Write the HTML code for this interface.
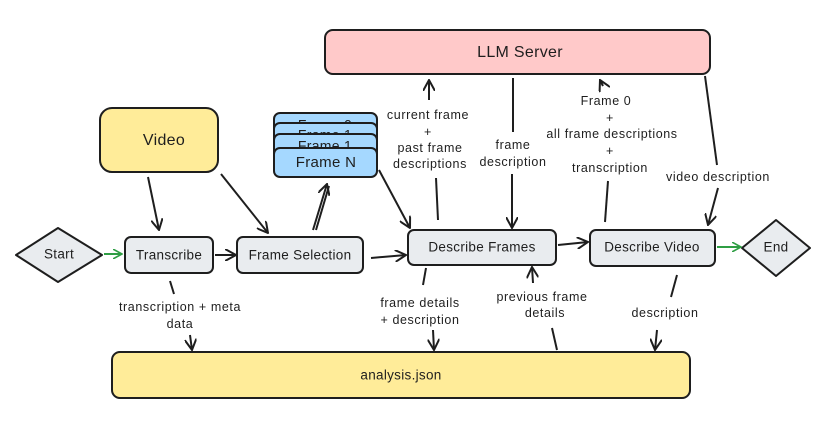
<!DOCTYPE html>
<html><head><meta charset="utf-8"><style>
html,body{margin:0;padding:0;background:#fff;}
svg{display:block;}
text{font-family:"Liberation Sans",sans-serif;fill:#1e1e1e;}
.n{font-size:13.5px;text-anchor:middle;dominant-baseline:middle;letter-spacing:0.3px;}
.l{font-size:12.5px;text-anchor:middle;letter-spacing:0.6px;}
</style></head><body>
<svg width="828" height="424" viewBox="0 0 828 424" xmlns="http://www.w3.org/2000/svg">
<defs>
<marker id="a" viewBox="0 0 12 12" refX="11" refY="6" markerWidth="12" markerHeight="12" markerUnits="userSpaceOnUse" orient="auto"><path d="M0,0 L11,6 L0,12" fill="none" stroke="#1e1e1e" stroke-width="2"/></marker>
<marker id="g" viewBox="0 0 12 12" refX="11" refY="6" markerWidth="10" markerHeight="10" markerUnits="userSpaceOnUse" orient="auto"><path d="M0,0 L11,6 L0,12" fill="none" stroke="#2f9e44" stroke-width="2"/></marker>
</defs>
<g stroke="#1e1e1e" stroke-width="2">
<rect x="325" y="30" width="385" height="44" rx="8" fill="#ffc9c9"/>
<rect x="100" y="108" width="118" height="64" rx="12" fill="#ffec99"/>
<rect x="274" y="113" width="103" height="29" rx="6" fill="#a5d8ff"/>
</g>
<text class="n" x="325" y="126" style="font-size:14px">Frame 0</text>
<g stroke="#1e1e1e" stroke-width="2">
<rect x="274" y="123" width="103" height="29" rx="6" fill="#a5d8ff"/>
</g>
<text class="n" x="325" y="136" style="font-size:14px">Frame 1</text>
<g stroke="#1e1e1e" stroke-width="2">
<rect x="274" y="134" width="103" height="29" rx="6" fill="#a5d8ff"/>
</g>
<text class="n" x="325" y="147" style="font-size:14px">Frame 1</text>
<g stroke="#1e1e1e" stroke-width="2">
<rect x="274" y="148" width="103" height="29" rx="6" fill="#a5d8ff"/>
<polygon points="16,255 58,228 102,255 58,282" fill="#e9ecef" stroke-linejoin="round"/>
<rect x="125" y="237" width="88" height="36" rx="6" fill="#e9ecef"/>
<rect x="237" y="237" width="126" height="36" rx="6" fill="#e9ecef"/>
<rect x="408" y="230" width="148" height="35" rx="6" fill="#e9ecef"/>
<rect x="590" y="230" width="125" height="36" rx="6" fill="#e9ecef"/>
<polygon points="742,248 776,220 810,248 776,276" fill="#e9ecef" stroke-linejoin="round"/>
<rect x="112" y="352" width="578" height="46" rx="8" fill="#ffec99"/>
</g>
<text class="n" x="520" y="53" style="font-size:16px">LLM Server</text>
<text class="n" x="164" y="141" style="font-size:16px">Video</text>
<text class="n" x="326" y="163" style="font-size:15px">Frame N</text>
<text class="n" x="59" y="255">Start</text>
<text class="n" x="169" y="256">Transcribe</text>
<text class="n" x="300" y="256">Frame Selection</text>
<text class="n" x="482" y="248">Describe Frames</text>
<text class="n" x="652" y="248">Describe Video</text>
<text class="n" x="776" y="248">End</text>
<text class="n" x="401" y="376">analysis.json</text>

<g stroke="#1e1e1e" stroke-width="2" fill="none">
<line x1="215" y1="255" x2="236" y2="255" marker-end="url(#a)"/>
<line x1="371" y1="258" x2="406" y2="255" marker-end="url(#a)"/>
<line x1="148" y1="177" x2="159" y2="230" marker-end="url(#a)"/>
<line x1="221" y1="174" x2="268" y2="233" marker-end="url(#a)"/>
<line x1="313" y1="230" x2="327" y2="184" marker-end="url(#a)"/>
<line x1="316" y1="230" x2="329" y2="186"/>
<line x1="379" y1="170" x2="410" y2="228" marker-end="url(#a)"/>
<line x1="438" y1="220" x2="436" y2="178"/>
<line x1="429" y1="100" x2="429" y2="80" marker-end="url(#a)"/>
<line x1="513" y1="78" x2="513" y2="132"/>
<line x1="512" y1="174" x2="512" y2="228" marker-end="url(#a)"/>
<line x1="605" y1="222" x2="608" y2="181"/>
<line x1="603" y1="86" x2="600" y2="80" marker-end="url(#a)"/>
<line x1="705" y1="76" x2="717" y2="165"/>
<line x1="718" y1="188" x2="708" y2="225" marker-end="url(#a)"/>
<line x1="558" y1="245" x2="588" y2="242" marker-end="url(#a)"/>
<line x1="170" y1="281" x2="174" y2="294"/>
<line x1="190" y1="335" x2="192" y2="350" marker-end="url(#a)"/>
<line x1="426" y1="268" x2="423" y2="285"/>
<line x1="433" y1="330" x2="434" y2="350" marker-end="url(#a)"/>
<line x1="557" y1="350" x2="552" y2="328"/>
<line x1="533" y1="283" x2="532" y2="267" marker-end="url(#a)"/>
<line x1="677" y1="275" x2="671" y2="297"/>
<line x1="657" y1="330" x2="655" y2="350" marker-end="url(#a)"/>
</g>
<line x1="104" y1="254" x2="122" y2="254" stroke="#2f9e44" stroke-width="2" marker-end="url(#g)"/>
<line x1="717" y1="247" x2="741" y2="247" stroke="#2f9e44" stroke-width="2" marker-end="url(#g)"/>

<text class="l" x="428" y="119">current frame</text>
<text class="l" x="428" y="136">+</text>
<text class="l" x="430" y="152">past frame</text>
<text class="l" x="430" y="168">descriptions</text>
<text class="l" x="513" y="149">frame</text>
<text class="l" x="513" y="166">description</text>
<text class="l" x="606" y="105">Frame 0</text>
<text class="l" x="610" y="122">+</text>
<text class="l" x="612" y="138">all frame descriptions</text>
<text class="l" x="610" y="155">+</text>
<text class="l" x="610" y="172">transcription</text>
<text class="l" x="718" y="181">video description</text>
<text class="l" x="180" y="311">transcription + meta</text>
<text class="l" x="180" y="328">data</text>
<text class="l" x="420" y="307">frame details</text>
<text class="l" x="420" y="324">+ description</text>
<text class="l" x="542" y="301">previous frame</text>
<text class="l" x="545" y="317">details</text>
<text class="l" x="665" y="317">description</text>
</svg>
</body></html>
